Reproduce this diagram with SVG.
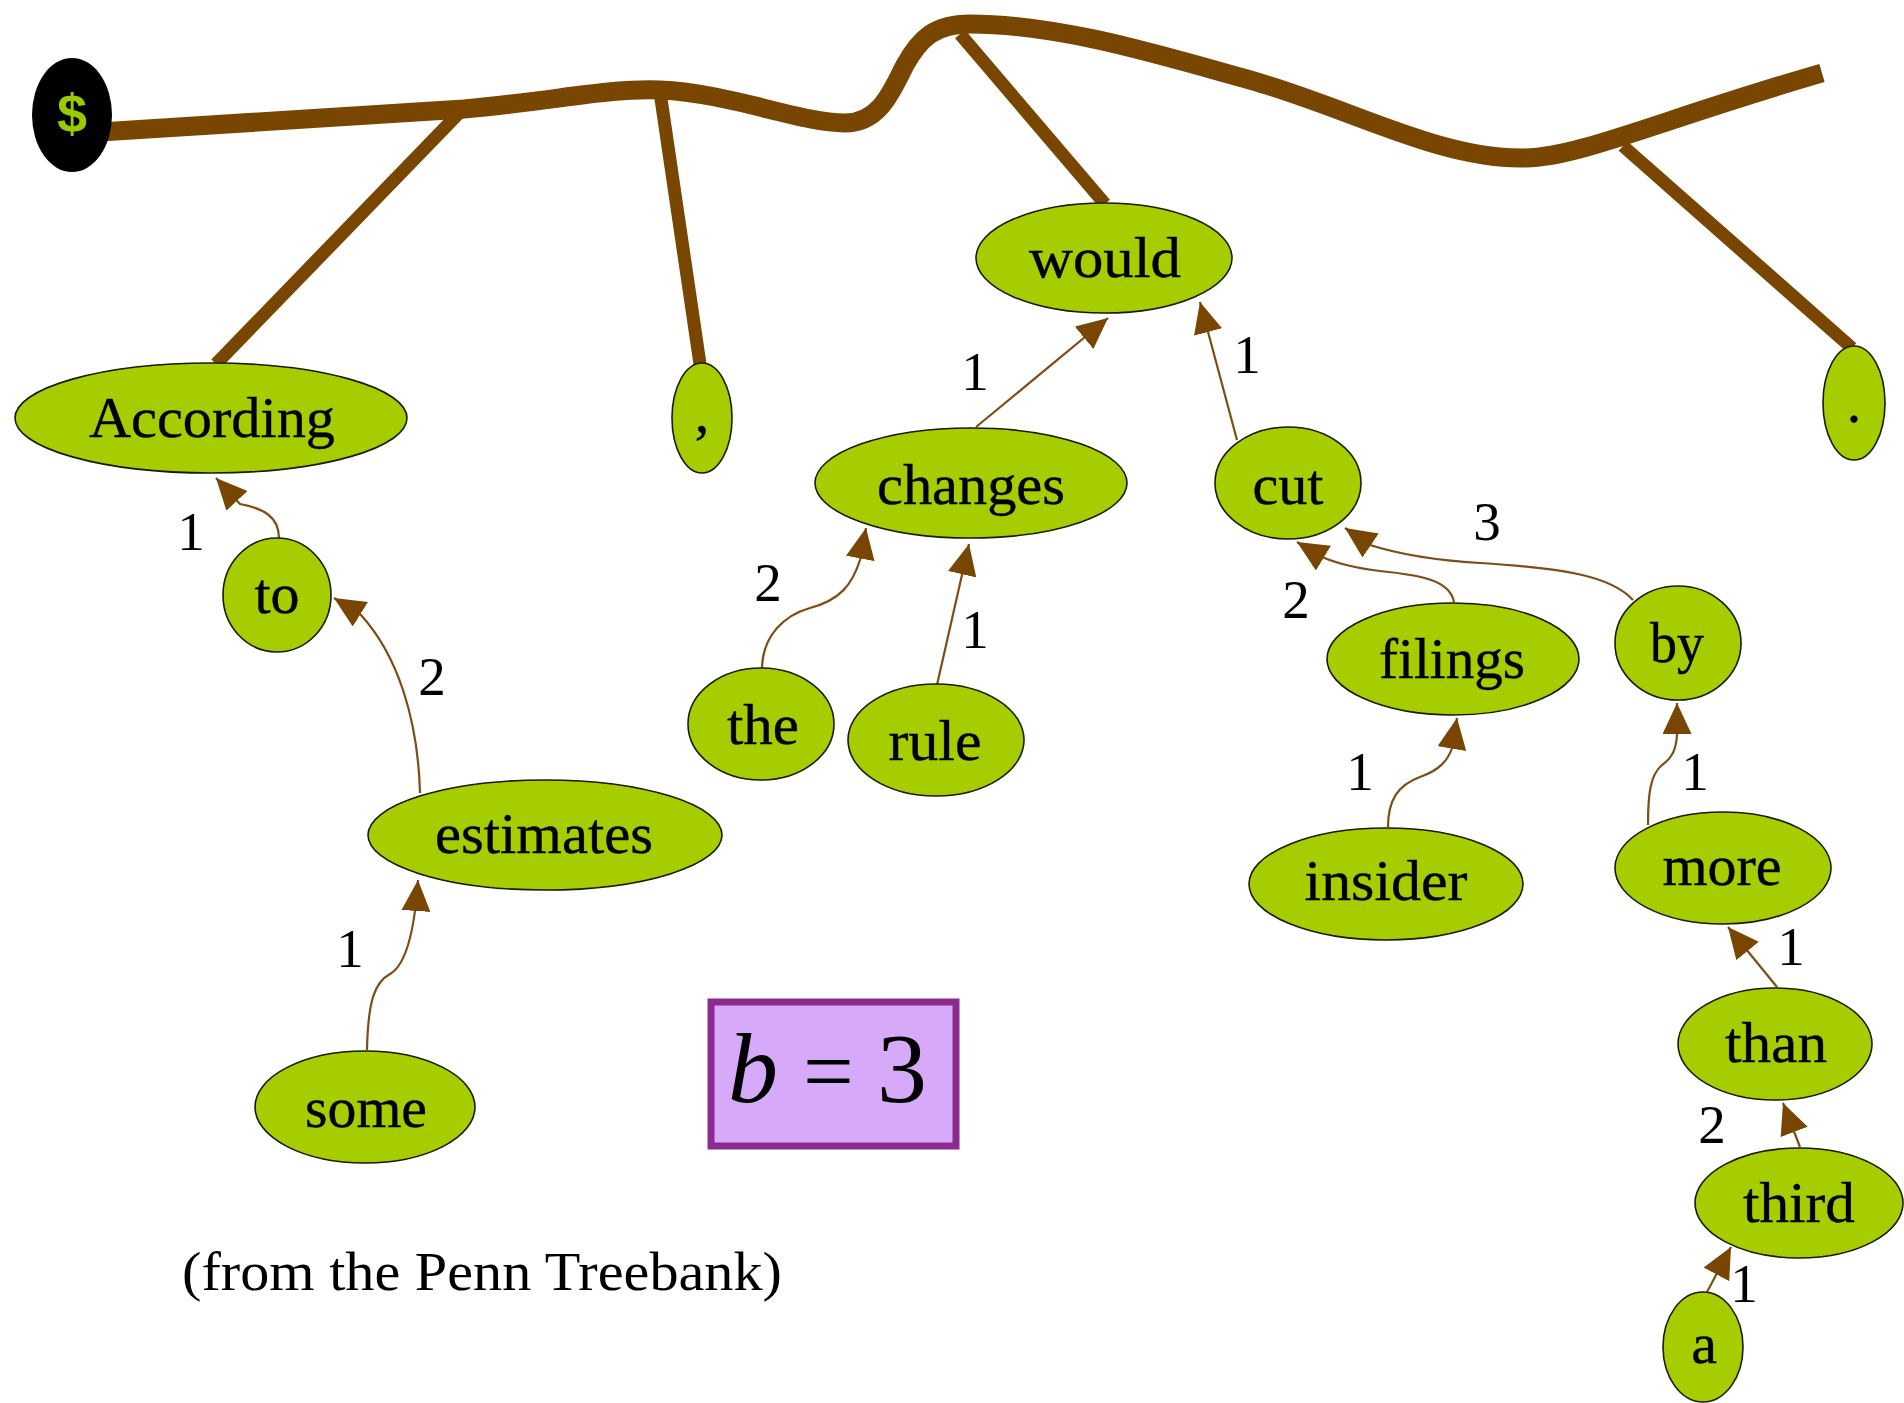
<svg xmlns="http://www.w3.org/2000/svg" width="1904" height="1403" viewBox="0 0 1904 1403">
<defs>
<style>
.node ellipse{fill:#a5cd00;stroke:#1a1a00;stroke-width:1.6}
.lbl{font-family:"Liberation Serif","Times New Roman",serif;font-size:58px;text-anchor:middle;fill:#000;stroke:#000;stroke-width:0.4}
.el{font-family:"Liberation Serif","Times New Roman",serif;font-size:55px;text-anchor:middle;fill:#000}
.trunk{fill:none;stroke:#784600;stroke-width:19}
.branch{fill:none;stroke:#784600;stroke-width:13}
.edge{fill:none;stroke:#7e4c14;stroke-width:2.2;marker-end:url(#ah)}
</style>
<marker id="ah" markerUnits="userSpaceOnUse" markerWidth="31" markerHeight="29" refX="31" refY="14.5" orient="auto">
<path d="M0,0 L31,14.5 L0,29 z" fill="#784600"/>
</marker>
</defs>
<rect width="1904" height="1403" fill="#fff"/>
<g id="connectors">
<path class="trunk" d="M100,132 L464,109 C560,100 610,88 660,90 C730,93 800,123 845,123 C880,123 892,90 905,65 C920,38 935,24 970,24 C1060,24 1160,55 1250,80 C1350,108 1440,160 1525,158 C1580,157 1660,120 1822,73"/>
<path class="branch" d="M462,110 L216,364"/>
<path class="branch" d="M660,92 L700,364"/>
<path class="branch" d="M960,34 L1105,204"/>
<path class="branch" d="M1623,146 L1852,348"/>
<path class="edge" d="M279,538 C279,516 262,508 240,504 L216,478"/>
<path class="edge" d="M420,793 C418,720 398,655 360,614 L334,598"/>
<path class="edge" d="M367,1050 C368,1000 375,982 390,974 C404,966 414,940 418,880"/>
<path class="edge" d="M976,427 L1108,318"/>
<path class="edge" d="M1237,440 L1200,302"/>
<path class="edge" d="M762,670 C762,635 785,615 810,608 C840,600 852,585 860,560 L866,528"/>
<path class="edge" d="M937,685 L969,544"/>
<path class="edge" d="M1454,602 C1450,580 1420,575 1380,571 C1355,568 1335,563 1320,556 L1297,542"/>
<path class="edge" d="M1633,600 C1610,575 1560,568 1480,563 C1430,560 1395,553 1370,545 L1345,528"/>
<path class="edge" d="M1388,827 C1388,800 1398,785 1420,777 C1440,770 1448,760 1452,748 L1457,718"/>
<path class="edge" d="M1648,825 C1648,795 1650,775 1662,765 C1672,758 1676,750 1677,735 L1677,703"/>
<path class="edge" d="M1777,987 L1728,927"/>
<path class="edge" d="M1800,1147 L1783,1103"/>
<path class="edge" d="M1707,1292 L1731,1247"/>
<text class="el" x="191" y="550">1</text>
<text class="el" x="432" y="695">2</text>
<text class="el" x="350" y="967">1</text>
<text class="el" x="975" y="390">1</text>
<text class="el" x="1247" y="373">1</text>
<text class="el" x="768" y="601">2</text>
<text class="el" x="975" y="648">1</text>
<text class="el" x="1296" y="618">2</text>
<text class="el" x="1487" y="540">3</text>
<text class="el" x="1360" y="790">1</text>
<text class="el" x="1695" y="790">1</text>
<text class="el" x="1791" y="965">1</text>
<text class="el" x="1712" y="1143">2</text>
<text class="el" x="1744" y="1302">1</text>
</g>
<g id="root">
<ellipse cx="72" cy="115" rx="40" ry="57" fill="#000"/>
<text x="72" y="132" font-family="Liberation Sans, Arial, sans-serif" font-weight="bold" font-size="54" text-anchor="middle" fill="#99cc00">$</text>
</g>
<g id="n-according" class="node"><ellipse cx="211" cy="418" rx="196" ry="55"/><text class="lbl" x="212" y="437" textLength="246" lengthAdjust="spacingAndGlyphs">According</text></g>
<g id="n-comma" class="node"><ellipse cx="702" cy="418" rx="30" ry="55"/><text class="lbl" x="702" y="432">,</text></g>
<g id="n-would" class="node"><ellipse cx="1104" cy="258" rx="128" ry="55"/><text class="lbl" x="1105" y="277" textLength="152" lengthAdjust="spacingAndGlyphs">would</text></g>
<g id="n-period" class="node"><ellipse cx="1854" cy="403" rx="31" ry="57"/><text class="lbl" x="1854" y="422">.</text></g>
<g id="n-changes" class="node"><ellipse cx="971" cy="483" rx="156" ry="55"/><text class="lbl" x="971" y="504" textLength="188" lengthAdjust="spacingAndGlyphs">changes</text></g>
<g id="n-cut" class="node"><ellipse cx="1288" cy="483" rx="73" ry="56"/><text class="lbl" x="1288" y="504" textLength="71" lengthAdjust="spacingAndGlyphs">cut</text></g>
<g id="n-to" class="node"><ellipse cx="277" cy="595" rx="54" ry="57"/><text class="lbl" x="277" y="613" textLength="45" lengthAdjust="spacingAndGlyphs">to</text></g>
<g id="n-estimates" class="node"><ellipse cx="545" cy="835" rx="177" ry="55"/><text class="lbl" x="544" y="853" textLength="218" lengthAdjust="spacingAndGlyphs">estimates</text></g>
<g id="n-some" class="node"><ellipse cx="365" cy="1107" rx="110" ry="56"/><text class="lbl" x="366" y="1127" textLength="122" lengthAdjust="spacingAndGlyphs">some</text></g>
<g id="n-the" class="node"><ellipse cx="761" cy="724" rx="73" ry="56"/><text class="lbl" x="763" y="744" textLength="72" lengthAdjust="spacingAndGlyphs">the</text></g>
<g id="n-rule" class="node"><ellipse cx="936" cy="740" rx="88" ry="56"/><text class="lbl" x="935" y="760" textLength="93" lengthAdjust="spacingAndGlyphs">rule</text></g>
<g id="n-filings" class="node"><ellipse cx="1453" cy="659" rx="126" ry="56"/><text class="lbl" x="1452" y="678" textLength="146" lengthAdjust="spacingAndGlyphs">filings</text></g>
<g id="n-by" class="node"><ellipse cx="1678" cy="643" rx="63" ry="57"/><text class="lbl" x="1677" y="662" textLength="54" lengthAdjust="spacingAndGlyphs">by</text></g>
<g id="n-insider" class="node"><ellipse cx="1386" cy="884" rx="137" ry="56"/><text class="lbl" x="1386" y="900" textLength="163" lengthAdjust="spacingAndGlyphs">insider</text></g>
<g id="n-more" class="node"><ellipse cx="1723" cy="868" rx="108" ry="56"/><text class="lbl" x="1722" y="885" textLength="119" lengthAdjust="spacingAndGlyphs">more</text></g>
<g id="n-than" class="node"><ellipse cx="1775" cy="1044" rx="97" ry="56"/><text class="lbl" x="1776" y="1062" textLength="102" lengthAdjust="spacingAndGlyphs">than</text></g>
<g id="n-third" class="node"><ellipse cx="1799" cy="1203" rx="104" ry="55"/><text class="lbl" x="1799" y="1222" textLength="112" lengthAdjust="spacingAndGlyphs">third</text></g>
<g id="n-a" class="node"><ellipse cx="1703" cy="1347" rx="40" ry="55"/><text class="lbl" x="1704" y="1363">a</text></g>
<g id="beam-box">
<rect x="711" y="1002" width="245" height="144" fill="#d6a9f9" stroke="#8d2a8f" stroke-width="7"/>
<text font-family="Liberation Serif, Times New Roman, serif" font-size="100" y="1102" fill="#000"><tspan x="728" font-style="italic">b</tspan><tspan x="803" font-size="90">=</tspan><tspan x="877">3</tspan></text>
</g>
<text id="caption" font-family="Liberation Serif, Times New Roman, serif" font-size="54" x="182" y="1290" textLength="600" lengthAdjust="spacingAndGlyphs" fill="#000">(from the Penn Treebank)</text>
</svg>
